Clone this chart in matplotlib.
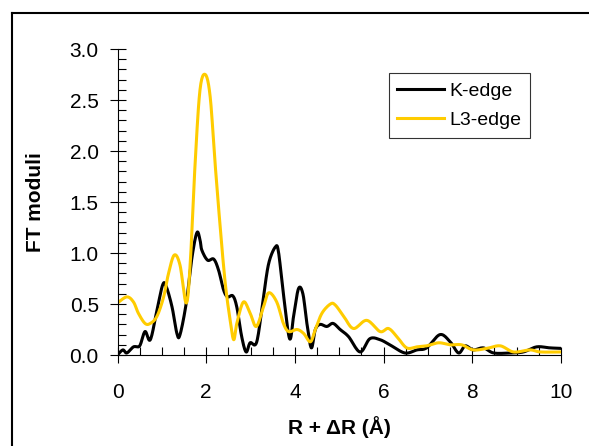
import numpy as np
import matplotlib
matplotlib.use("Agg")
from matplotlib import pyplot as plt
from matplotlib.lines import Line2D
from matplotlib.ticker import MultipleLocator

plt.rcParams['font.family'] = ['Liberation Sans', 'DejaVu Sans']

#K-edge curve
kR = [0.0, 0.12, 0.21, 0.36, 0.5, 0.62, 0.74, 0.89, 1.02, 1.1, 1.23, 1.34, 1.41, 1.55, 1.68,
      1.79, 1.86, 1.9, 2.03, 2.17, 2.28, 2.39, 2.48, 2.6, 2.69, 2.8, 2.9, 2.99, 3.14, 3.29,
      3.41, 3.56, 3.63, 3.74, 3.88, 3.97, 4.08, 4.18, 4.27, 4.37, 4.46, 4.57, 4.72, 4.86,
      5.02, 5.21, 5.47, 5.69, 5.92, 6.14, 6.48, 6.75, 6.97, 7.27, 7.5, 7.69, 7.84, 8.02,
      8.25, 8.48, 8.85, 9.15, 9.45, 9.75, 10.0]
kF = [0.0, 0.05, 0.02, 0.08, 0.09, 0.23, 0.15, 0.44, 0.69, 0.67, 0.47, 0.21, 0.2, 0.51, 0.96,
      1.2, 1.13, 1.03, 0.93, 0.94, 0.83, 0.64, 0.57, 0.58, 0.47, 0.18, 0.03, 0.12, 0.13, 0.57,
      0.9, 1.06, 1.01, 0.6, 0.16, 0.38, 0.65, 0.6, 0.31, 0.07, 0.25, 0.3, 0.28, 0.31,
      0.25, 0.18, 0.03, 0.16, 0.15, 0.1, 0.02, 0.05, 0.07, 0.2, 0.13, 0.02, 0.09, 0.05,
      0.07, 0.02, 0.02, 0.03, 0.08, 0.07, 0.065]

#L3-edge curve
lR = [0.0, 0.21, 0.36, 0.47, 0.62, 0.74, 0.89, 1.04, 1.15, 1.28, 1.41, 1.55, 1.64, 1.75,
      1.86, 1.98, 2.09, 2.2, 2.32, 2.43, 2.54, 2.62, 2.69, 2.84, 2.99, 3.13, 3.29, 3.41,
      3.59, 3.74, 3.86, 4.05, 4.2, 4.35, 4.46, 4.61, 4.8, 4.91, 5.1, 5.32, 5.62, 5.92,
      6.11, 6.3, 6.52, 6.75, 6.97, 7.24, 7.5, 7.76, 8.02, 8.33, 8.63, 8.93, 9.3, 9.53, 10.0]
lF = [0.51, 0.57, 0.52, 0.41, 0.31, 0.31, 0.38, 0.57, 0.8, 0.98, 0.88, 0.51, 0.9, 1.88,
      2.6, 2.75, 2.53, 1.88, 1.23, 0.7, 0.34, 0.15, 0.31, 0.52, 0.41, 0.28, 0.47, 0.61,
      0.52, 0.31, 0.23, 0.25, 0.21, 0.13, 0.25, 0.41, 0.5, 0.49, 0.38, 0.26, 0.34, 0.23,
      0.26, 0.18, 0.07, 0.08, 0.09, 0.12, 0.1, 0.1, 0.05, 0.065, 0.09, 0.03, 0.05, 0.03, 0.03]

def smooth(x, y):
    P = np.column_stack([x, y])
    P = np.vstack([P[0], P, P[-1]])
    pts = []
    for i in range(1, len(P) - 2):
        p0, p1, p2, p3 = P[i-1], P[i], P[i+1], P[i+2]
        for t in np.linspace(0, 1, 12, endpoint=False):
            t2, t3 = t*t, t*t*t
            pts.append(0.5*((2*p1) + (-p0 + p2)*t + (2*p0 - 5*p1 + 4*p2 - p3)*t2 + (-p0 + 3*p1 - 3*p2 + p3)*t3))
    pts.append(P[-2])
    pts = np.array(pts)
    return pts[:, 0], np.clip(pts[:, 1], 0, None)

fig = plt.figure(figsize=(5.89, 4.46), dpi=100)
ax = fig.add_axes([0.1995, 0.204, 0.753, 0.686])

x1, y1 = smooth(kR, kF)
x2, y2 = smooth(lR, lF)
ax.plot(x1, y1, color='black', lw=2.2, label='K-edge')
ax.plot(x2, y2, color='#FFCC00', lw=2.2, label='L3-edge')

ax.set_xlim(0, 10)
ax.set_ylim(0, 3)
ax.xaxis.set_major_locator(MultipleLocator(2))
ax.xaxis.set_minor_locator(MultipleLocator(0.5))
ax.yaxis.set_major_locator(MultipleLocator(0.5))
ax.yaxis.set_minor_locator(MultipleLocator(0.1))
ax.yaxis.set_major_formatter(matplotlib.ticker.FormatStrFormatter('%.1f'))
ax.tick_params(which='major', direction='inout', length=11, width=0.8, labelsize=15)
ax.tick_params(which='minor', direction='in', length=5.5, width=0.8)
ax.tick_params(axis='x', which='major', pad=15)
ax.tick_params(axis='y', which='major', pad=8)
for s in ['top', 'right']:
    ax.spines[s].set_visible(False)
ax.spines['left'].set_linewidth(0.8)
ax.spines['bottom'].set_linewidth(0.8)

ax.set_xlabel('R + \u0394R (\u00c5)', fontsize=15, fontweight='bold', labelpad=10)
ax.set_ylabel('FT moduli', fontsize=15, fontweight='bold', labelpad=18)

leg = ax.legend(loc='upper left', bbox_to_anchor=(0.660, 0.836), bbox_transform=fig.transFigure,
                fontsize=14, frameon=True, fancybox=False, edgecolor='black',
                handlelength=2.4, borderpad=0.45, labelspacing=0.6, handletextpad=0.25,
                borderaxespad=0)
leg.get_frame().set_linewidth(0.8)

#Outer chart frame (left and top edges visible)
fig.add_artist(Line2D([0.021, 0.021], [0.0, 0.971], color='black', lw=1.5, transform=fig.transFigure))
fig.add_artist(Line2D([0.021, 1.0], [0.971, 0.971], color='black', lw=1.5, transform=fig.transFigure))

fig.savefig('out.png', dpi=100)
